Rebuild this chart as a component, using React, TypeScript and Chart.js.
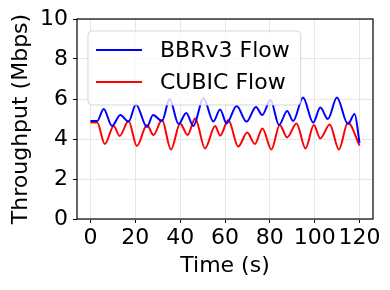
import React, { useEffect, useRef } from 'react';
import { Chart, registerables } from 'chart.js';

Chart.register(...registerables);

const bbrTimes = [0, 3, 5.9, 9.6, 13.3, 17, 20.3, 25.2, 27.9, 31.9, 35.3, 39.3, 42.7, 45.9, 50.4, 54.8, 57.8, 60.7, 65.2, 69.6, 73.8, 76.6, 80.3, 84.1, 87.7, 90.4, 94.8, 99.3, 102.5, 105.9, 109.9, 114.8, 117.8, 120];
const bbrValues = [4.9, 4.9, 5.5, 4.65, 5.2, 4.87, 5.73, 4.6, 5.2, 4.9, 6.0, 4.75, 5.3, 4.65, 6.05, 4.87, 5.48, 4.78, 5.65, 4.87, 5.6, 5.2, 5.95, 4.7, 5.4, 4.9, 6.07, 4.82, 5.57, 5.0, 6.07, 4.75, 5.25, 3.8];

const cubicTimes = [0, 3, 6.4, 10.4, 13, 17, 20.7, 25.2, 28.1, 31.9, 35.9, 40, 43.3, 46.7, 51.1, 55.6, 57.8, 61.5, 65.9, 69.9, 73.3, 76.7, 80.7, 84.4, 87.7, 91.9, 95.9, 99.6, 102.5, 106.7, 110.8, 114.8, 120];
const cubicValues = [4.82, 4.82, 3.75, 4.65, 4.15, 4.9, 3.65, 4.7, 4.2, 4.95, 3.48, 4.78, 4.2, 5.03, 3.53, 4.65, 4.17, 4.95, 3.62, 4.33, 3.75, 4.53, 3.48, 4.7, 4.08, 4.78, 3.53, 4.7, 4.03, 4.73, 3.48, 4.82, 3.67];

const seriesLabels = ['BBRv3 Flow', 'CUBIC Flow'];
const seriesColors = ['#0000ff', '#ff0000'];
const xTicks = [0, 20, 40, 60, 80, 100, 120];
const yTicks = [0, 2, 4, 6, 8, 10];

const FONT = 'DejaVu Sans';

const framePlugin = {
  id: 'frame',
  afterDatasetsDraw(chart: any) {
    const { ctx, chartArea } = chart;
    ctx.save();
    ctx.strokeStyle = '#000';
    ctx.lineWidth = 1.2;
    ctx.strokeRect(chartArea.left, chartArea.top, chartArea.right - chartArea.left, chartArea.bottom - chartArea.top);
    ctx.restore();
  },
};

const legendPlugin = {
  id: 'innerLegend',
  afterDraw(chart: any) {
    const { ctx, chartArea } = chart;
    const x0 = chartArea.left + 11;
    const y0 = chartArea.top + 12;
    const rowH = 32;
    const lineLen = 46;
    const gap = 18;
    ctx.save();
    ctx.font = `22px "${FONT}"`;
    const labels = chart.data.datasets.map((d: any) => d.label);
    const maxW = Math.max(...labels.map((l: string) => ctx.measureText(l).width));
    const w = 8 + lineLen + gap + maxW + 11;
    const h = rowH * labels.length + 10;
    const r = 4;
    ctx.beginPath();
    ctx.moveTo(x0 + r, y0);
    ctx.lineTo(x0 + w - r, y0);
    ctx.arcTo(x0 + w, y0, x0 + w, y0 + r, r);
    ctx.lineTo(x0 + w, y0 + h - r);
    ctx.arcTo(x0 + w, y0 + h, x0 + w - r, y0 + h, r);
    ctx.lineTo(x0 + r, y0 + h);
    ctx.arcTo(x0, y0 + h, x0, y0 + h - r, r);
    ctx.lineTo(x0, y0 + r);
    ctx.arcTo(x0, y0, x0 + r, y0, r);
    ctx.closePath();
    ctx.fillStyle = 'rgba(255,255,255,0.8)';
    ctx.fill();
    ctx.strokeStyle = 'rgba(204,204,204,0.8)';
    ctx.lineWidth = 1;
    ctx.stroke();
    chart.data.datasets.forEach((d: any, i: number) => {
      const cy = y0 + 19 + i * rowH;
      ctx.beginPath();
      ctx.strokeStyle = d.borderColor;
      ctx.lineWidth = 2;
      ctx.moveTo(x0 + 8, cy);
      ctx.lineTo(x0 + 8 + lineLen, cy);
      ctx.stroke();
      ctx.fillStyle = '#000';
      ctx.textBaseline = 'middle';
      ctx.textAlign = 'left';
      ctx.fillText(d.label, x0 + 8 + lineLen + gap, cy + 1);
    });
    ctx.restore();
  },
};

export default function App() {
  const ref = useRef<HTMLCanvasElement>(null);
  useEffect(() => {
    if (!ref.current) return;
    const chart = new Chart(ref.current, {
      type: 'line',
      data: {
        datasets: [
          {
            label: seriesLabels[0],
            data: bbrTimes.map((t, i) => ({ x: t, y: bbrValues[i] })),
            borderColor: seriesColors[0],
            borderWidth: 2,
            pointRadius: 0,
            cubicInterpolationMode: 'monotone',
            fill: false,
          },
          {
            label: seriesLabels[1],
            data: cubicTimes.map((t, i) => ({ x: t, y: cubicValues[i] })),
            borderColor: seriesColors[1],
            borderWidth: 2,
            pointRadius: 0,
            cubicInterpolationMode: 'monotone',
            fill: false,
          },
        ],
      },
      options: {
        responsive: false,
        animation: false,
        layout: { padding: { left: 0, top: 19, right: 17, bottom: 0 } },
        plugins: { legend: { display: false }, tooltip: { enabled: false } },
        scales: {
          x: {
            type: 'linear',
            min: -6,
            max: 126,
            afterBuildTicks: (s: any) => {
              s.ticks = xTicks.map((v) => ({ value: v }));
            },
            afterFit: (s: any) => {
              s.height = 71;
            },
            grid: { color: '#e6e6e6', tickColor: '#000', tickLength: 4, lineWidth: 1 },
            border: { display: false },
            ticks: { font: { family: FONT, size: 22 }, color: '#000', padding: 2, maxRotation: 0, autoSkip: false },
            title: { display: true, text: 'Time (s)', font: { family: FONT, size: 22 }, color: '#000', padding: { top: 0, bottom: 11 } },
          },
          y: {
            type: 'linear',
            min: 0,
            max: 10,
            afterBuildTicks: (s: any) => {
              s.ticks = yTicks.map((v) => ({ value: v }));
            },
            afterFit: (s: any) => {
              s.width = 77;
            },
            grid: { color: '#e6e6e6', tickColor: '#000', tickLength: 4, lineWidth: 1 },
            border: { display: false },
            ticks: { font: { family: FONT, size: 22 }, color: '#000', padding: 5, autoSkip: false },
            title: { display: true, text: 'Throughput (Mbps)', font: { family: FONT, size: 22 }, color: '#000', padding: { top: 8, bottom: 0 } },
          },
        },
      },
      plugins: [framePlugin, legendPlugin],
    });
    return () => chart.destroy();
  }, []);
  return (
    <div style={{ position: 'absolute', left: 0, top: 0, width: 390, height: 290, background: '#fff' }}>
      <canvas ref={ref} width={390} height={290} style={{ display: 'block' }} />
    </div>
  );
}
